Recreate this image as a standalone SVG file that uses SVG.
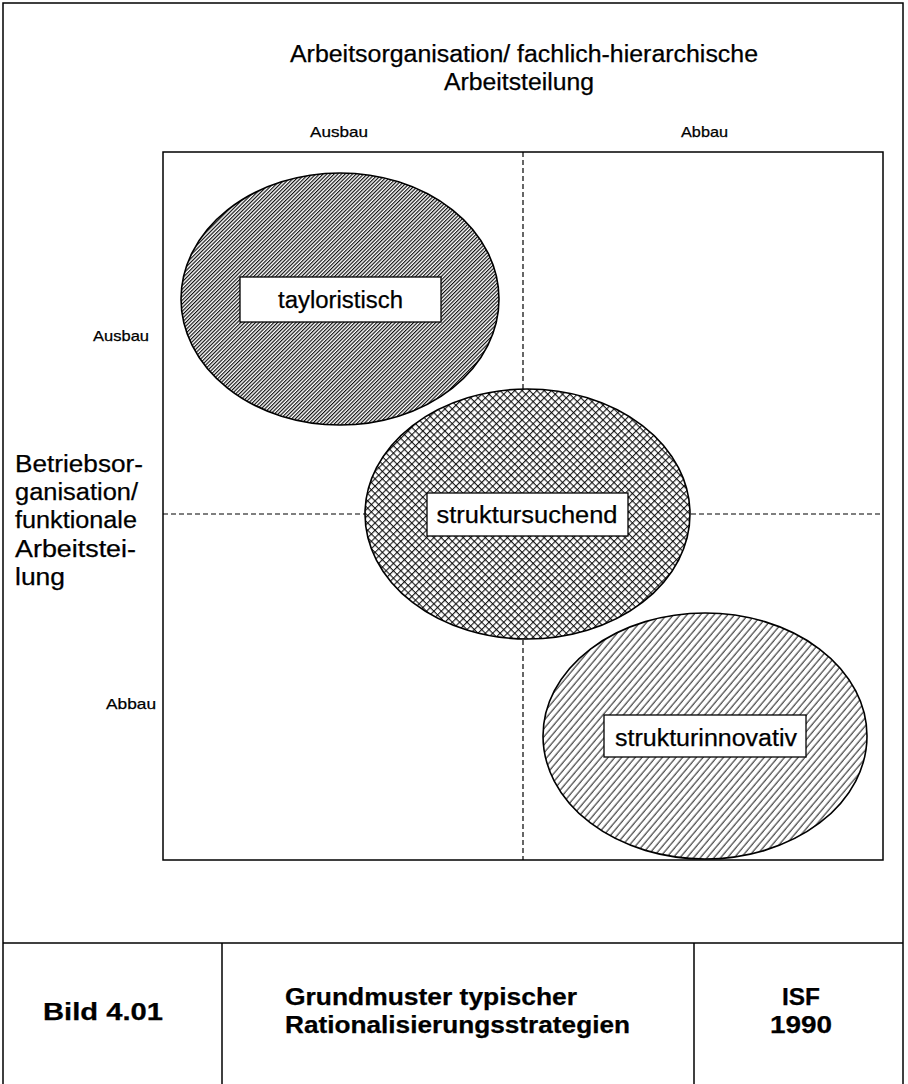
<svg xmlns="http://www.w3.org/2000/svg" width="908" height="1084" viewBox="0 0 908 1084">
<style>
text{font-family:"Liberation Sans",Arial,Helvetica,sans-serif;fill:#000;stroke:#000;stroke-width:0.25}
.t{font-size:23px}
.ax{font-size:15px}
.lab{font-size:23px}
.b{font-size:23px;font-weight:bold}
.frame{fill:none;stroke:#000;stroke-width:1.5}
.dash{fill:none;stroke:#000;stroke-width:1.2;stroke-dasharray:5 3}
.ell{stroke:#000;stroke-width:1.6}
.box{fill:#fff;stroke:#000;stroke-width:1.3}
</style>
<defs>
<pattern id="hatchDense" patternUnits="userSpaceOnUse" width="2.6" height="10" patternTransform="rotate(45)">
<rect width="2.6" height="10" fill="#fff"/>
<line x1="0.6" y1="0" x2="0.6" y2="10" stroke="#000" stroke-width="1.1"/>
</pattern>
<pattern id="hatchWide" patternUnits="userSpaceOnUse" width="5.2" height="10" patternTransform="rotate(40)">
<rect width="5.2" height="10" fill="#fff"/>
<line x1="1" y1="0" x2="1" y2="10" stroke="#000" stroke-width="0.9"/>
</pattern>
<pattern id="cross" patternUnits="userSpaceOnUse" width="5.2" height="5.2" patternTransform="rotate(45)">
<rect width="5.2" height="5.2" fill="#fff"/>
<line x1="0.6" y1="0" x2="0.6" y2="5.2" stroke="#000" stroke-width="1"/>
<line x1="0" y1="0.6" x2="5.2" y2="0.6" stroke="#000" stroke-width="1"/>
</pattern>
</defs>
<rect width="908" height="1084" fill="#fff"/>
<g id="frame">
<rect class="frame" x="3" y="3" width="900" height="1090"/>
<line class="frame" x1="3" y1="943" x2="903" y2="943"/>
<line class="frame" x1="222" y1="943" x2="222" y2="1084"/>
<line class="frame" x1="694" y1="943" x2="694" y2="1084"/>
</g>
<g id="title">
<text class="t" x="290" y="62" textLength="468" lengthAdjust="spacingAndGlyphs">Arbeitsorganisation/ fachlich-hierarchische</text>
<text class="t" x="444" y="90" textLength="150" lengthAdjust="spacingAndGlyphs">Arbeitsteilung</text>
</g>
<g id="plot">
<rect class="frame" x="163" y="152" width="720" height="708"/>
</g>
<g id="connectors">
<line class="dash" x1="523" y1="152" x2="523" y2="860"/>
<line class="dash" x1="163" y1="514" x2="883" y2="514"/>
</g>
<g id="axis-labels">
<text class="ax" x="310" y="137" textLength="58" lengthAdjust="spacingAndGlyphs">Ausbau</text>
<text class="ax" x="681" y="137" textLength="47" lengthAdjust="spacingAndGlyphs">Abbau</text>
<text class="ax" x="93" y="341" textLength="56" lengthAdjust="spacingAndGlyphs">Ausbau</text>
<text class="ax" x="106" y="709" textLength="50" lengthAdjust="spacingAndGlyphs">Abbau</text>
<text class="t" x="15" y="472" textLength="128" lengthAdjust="spacingAndGlyphs">Betriebsor-</text>
<text class="t" x="15" y="500" textLength="123" lengthAdjust="spacingAndGlyphs">ganisation/</text>
<text class="t" x="15" y="528" textLength="122" lengthAdjust="spacingAndGlyphs">funktionale</text>
<text class="t" x="15" y="557" textLength="121" lengthAdjust="spacingAndGlyphs">Arbeitstei-</text>
<text class="t" x="15" y="585" textLength="50" lengthAdjust="spacingAndGlyphs">lung</text>
</g>
<g id="node-tayloristisch">
<ellipse class="ell" cx="340" cy="299" rx="159" ry="126" fill="url(#hatchDense)"/>
<rect class="box" x="240" y="277" width="201" height="45"/>
<text class="lab" x="340.5" y="308" text-anchor="middle" textLength="125" lengthAdjust="spacingAndGlyphs">tayloristisch</text>
</g>
<g id="node-struktursuchend">
<ellipse class="ell" cx="527.5" cy="514" rx="162.5" ry="125" fill="url(#cross)"/>
<rect class="box" x="427" y="493" width="201" height="43"/>
<text class="lab" x="527" y="523" text-anchor="middle" textLength="181" lengthAdjust="spacingAndGlyphs">struktursuchend</text>
</g>
<g id="node-strukturinnovativ">
<ellipse class="ell" cx="705" cy="736" rx="162" ry="123" fill="url(#hatchWide)"/>
<rect class="box" x="604" y="715" width="202" height="42"/>
<text class="lab" x="706" y="746" text-anchor="middle" textLength="182" lengthAdjust="spacingAndGlyphs">strukturinnovativ</text>
</g>
<g id="footer">
<text class="b" x="43" y="1020" textLength="120" lengthAdjust="spacingAndGlyphs">Bild 4.01</text>
<text class="b" x="285" y="1005" textLength="292" lengthAdjust="spacingAndGlyphs">Grundmuster typischer</text>
<text class="b" x="285" y="1033" textLength="345" lengthAdjust="spacingAndGlyphs">Rationalisierungsstrategien</text>
<text class="b" x="801" y="1005" text-anchor="middle" textLength="38" lengthAdjust="spacingAndGlyphs">ISF</text>
<text class="b" x="801" y="1033" text-anchor="middle" textLength="62" lengthAdjust="spacingAndGlyphs">1990</text>
</g>
</svg>
